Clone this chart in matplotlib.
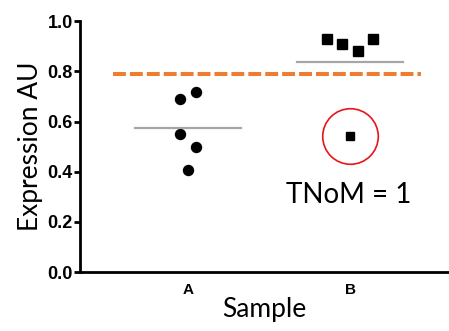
import matplotlib
matplotlib.use("Agg")
import matplotlib.pyplot as plt

# data
categories = ["A", "B"]
a_offsets = [-0.05, 0.05, -0.05, 0.05, 0.0]
a_values = [0.689, 0.718, 0.549, 0.498, 0.406]
b_offsets = [-0.14, -0.05, 0.05, 0.14]
b_values = [0.929, 0.911, 0.880, 0.929]
b_outlier = 0.542
a_mean = 0.574
b_mean = 0.837
threshold = 0.789
yticks = [0.0, 0.2, 0.4, 0.6, 0.8, 1.0]

fig = plt.figure(figsize=(4.49, 3.31), dpi=100)
ax = fig.add_axes([0.178, 0.178, 0.822, 0.758])

ax.plot([0 + o for o in a_offsets], a_values, "o", color="black", markersize=7.2)
ax.plot([1 + o for o in b_offsets], b_values, "s", color="black", markersize=6.8)
ax.plot([1], [b_outlier], "s", color="black", markersize=6.2)
ax.plot([1], [b_outlier], "o", markersize=40, markerfacecolor="none",
        markeredgecolor="#e8141a", markeredgewidth=1.2)

ax.plot([-0.33, 0.33], [a_mean, a_mean], color="#a6a6a6", lw=1.6)
ax.plot([1 - 0.33, 1 + 0.33], [b_mean, b_mean], color="#a6a6a6", lw=1.6)
ax.plot([-0.46, 1.44], [threshold, threshold], color="#ed7d31", lw=2.9,
        dashes=(3.2, 1.0))

ax.text(0.99, 0.307, "TNoM = 1", fontsize=20, family="Lato",
        ha="center", va="center")

ax.set_xlim(-0.667, 1.611)
ax.set_ylim(0, 1.0)
ax.set_xticks([0, 1])
ax.set_xticklabels(categories, fontsize=11, fontweight="bold", family="Liberation Sans")
ax.set_yticks(yticks)
ax.set_yticklabels([f"{t:.1f}" for t in yticks], fontsize=13, fontweight="bold",
                   family="Liberation Sans")
ax.tick_params(axis="x", length=0, pad=8)
ax.tick_params(axis="y", length=4, width=2, pad=1)
for s in ["top", "right"]:
    ax.spines[s].set_visible(False)
for s in ["left", "bottom"]:
    ax.spines[s].set_linewidth(2)

ax.set_ylabel("Expression AU", fontsize=19, family="Lato", labelpad=3)
ax.set_xlabel("Sample", fontsize=19, family="Lato", labelpad=0)

fig.savefig("out.png", dpi=100)
